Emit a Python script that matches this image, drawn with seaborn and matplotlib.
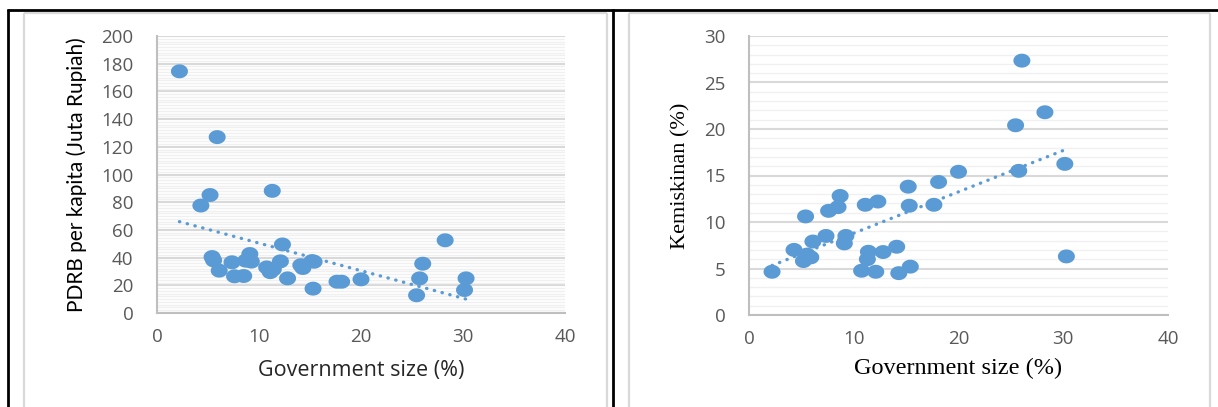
import matplotlib
matplotlib.use("Agg")
import matplotlib.pyplot as plt
import seaborn as sns
import pandas as pd
import numpy as np
from matplotlib.ticker import MultipleLocator
from matplotlib.lines import Line2D
from matplotlib.path import Path

# ---- data ----
gov_size = [2.2, 4.3, 5.2, 5.4, 5.55, 5.9, 6.1, 7.35, 7.6, 8.5, 8.7, 9.1, 9.25,
            10.75, 11.1, 11.3, 11.4, 12.1, 12.3, 12.8, 14.1, 14.3, 15.2, 15.3,
            15.4, 17.65, 18.1, 20.0, 25.45, 25.75, 26.05, 28.25, 30.15, 30.3]
pdrb = [174.5, 77.6, 85.2, 40.4, 38.0, 127.0, 30.6, 36.6, 26.5, 26.7, 37.8, 42.6, 37.1,
        32.9, 29.5, 88.2, 31.5, 37.3, 49.5, 25.0, 34.5, 32.5, 37.5, 17.6,
        37.0, 22.6, 22.6, 24.3, 12.8, 25.0, 35.6, 52.5, 16.6, 25.0]
kemiskinan = [4.65, 7.0, 5.8, 10.6, 6.5, 6.2, 7.9, 8.5, 11.2, 11.6, 12.8, 7.7, 8.5,
              4.76, 11.85, 6.0, 6.8, 4.65, 12.2, 6.77, 7.34, 4.5, 13.8, 11.75,
              5.2, 11.85, 14.3, 15.4, 20.4, 15.5, 27.35, 21.8, 16.25, 6.3]

x_ticks = [0, 10, 20, 30, 40]
left_yticks = [0, 20, 40, 60, 80, 100, 120, 140, 160, 180, 200]
right_yticks = [0, 5, 10, 15, 20, 25, 30]

df = pd.DataFrame({"gov": gov_size, "pdrb": pdrb, "kem": kemiskinan})

sns.set_theme(style="white")
plt.rcParams["font.family"] = ["Open Sans", "DejaVu Sans"]

W, H = 1218, 407
fig = plt.figure(figsize=(W / 100, H / 100), dpi=100)
fig.patch.set_facecolor("white")

def px_rect(x0, x1, ytop, ybot):
    return [x0 / W, 1 - ybot / H, (x1 - x0) / W, (ybot - ytop) / H]

ax1 = fig.add_axes(px_rect(157, 565, 36, 313))
ax2 = fig.add_axes(px_rect(749, 1168, 36, 315))

BLUE = "#5b9bd5"
GRID_MAJ = "#d9d9d9"
GRID_MIN = "#f0f0f0"
TICK_C = "#595959"

# slightly wide elliptical marker (as in the reference)
t = np.linspace(0, 2 * np.pi, 60)
ell = Path(np.column_stack([1.22 * np.cos(t), np.sin(t)]), closed=True)

def style(ax, ycol, ymax, minor, yticks):
    sns.scatterplot(data=df, x="gov", y=ycol, ax=ax, color=BLUE, s=150,
                    marker=ell, edgecolor="none", linewidth=0, zorder=3, legend=False)
    sns.regplot(data=df, x="gov", y=ycol, ax=ax, scatter=False, ci=None,
                color=BLUE, line_kws=dict(linestyle=(0, (0.1, 2.3)), lw=2.4,
                                          dash_capstyle="round", zorder=2))
    ax.set_xlim(0, 40)
    ax.set_ylim(0, ymax)
    ax.set_xticks(x_ticks)
    ax.set_yticks(yticks)
    ax.yaxis.set_minor_locator(MultipleLocator(minor))
    ax.grid(False)
    ax.grid(axis="y", which="minor", color=GRID_MIN, lw=1.0, zorder=0)
    ax.grid(axis="y", which="major", color=GRID_MAJ, lw=1.5, zorder=0)
    ax.set_axisbelow(True)
    for s in ["top", "right"]:
        ax.spines[s].set_visible(False)
    for s in ["left", "bottom"]:
        ax.spines[s].set_color("#bfbfbf")
        ax.spines[s].set_linewidth(1.5)
    ax.tick_params(axis="both", which="major", direction="out", length=5,
                   width=1.2, color="#bfbfbf", labelcolor=TICK_C, labelsize=13.5)
    ax.tick_params(axis="y", which="major", pad=12)
    ax.tick_params(axis="x", which="major", pad=6)
    ax.tick_params(which="minor", length=0)

style(ax1, "pdrb", 200, 2, left_yticks)
style(ax2, "kem", 30, 1, right_yticks)

ax1.set_xlabel("Government size (%)", fontsize=15.5, color="#262626", labelpad=10)
ax1.set_ylabel("PDRB per kapita (Juta Rupiah)", fontsize=15, color="black",
               labelpad=10, family=["Lato", "DejaVu Sans"])
ax2.set_xlabel("Government size (%)", fontsize=17.5, color="black", labelpad=7,
               family=["Liberation Serif", "DejaVu Serif"])
ax2.set_ylabel("Kemiskinan (%)", fontsize=16, color="black", labelpad=10,
               family=["Liberation Serif", "DejaVu Serif"])

# ---- frames (figure decoration) ----
def line(xs, ys, color, lw):
    fig.add_artist(Line2D([x / W for x in xs], [1 - y / H for y in ys],
                          transform=fig.transFigure, color=color, lw=lw,
                          solid_capstyle="butt"))

# inner light-grey chart borders
line([24, 24], [13, 410], "#d9d9d9", 1.6)
line([24, 607], [13, 13], "#d9d9d9", 1.6)
line([607, 607], [13, 410], "#d9d9d9", 1.6)
line([629, 629], [13, 410], "#d9d9d9", 1.6)
line([629, 1210], [13, 13], "#d9d9d9", 1.6)
line([1210, 1210], [13, 410], "#d9d9d9", 1.6)
# outer black table border
line([7, 1220], [10, 10], "black", 2.0)
line([8, 8], [9, 410], "black", 2.0)
line([613, 613], [9, 410], "black", 2.0)

fig.savefig("out.png", dpi=100, facecolor="white")
